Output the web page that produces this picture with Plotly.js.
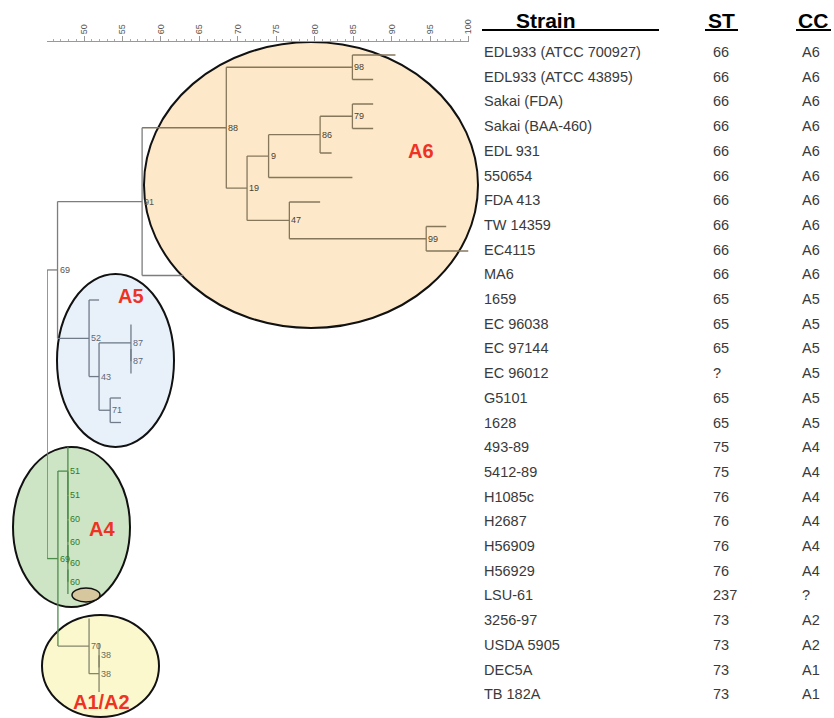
<!DOCTYPE html>
<html>
<head>
<meta charset="utf-8">
<script src="https://cdn.plot.ly/plotly-3.0.1.min.js"></script>
<style>html,body{margin:0;padding:0;background:#fff;}#chart{width:834px;height:718px;}</style>
</head>
<body>
<div id="chart"></div>
<script>
// ---------- DATA ----------
const strains = ["EDL933 (ATCC 700927)","EDL933 (ATCC 43895)","Sakai (FDA)","Sakai (BAA-460)","EDL 931","550654","FDA 413","TW 14359","EC4115","MA6","1659","EC 96038","EC 97144","EC 96012","G5101","1628","493-89","5412-89","H1085c","H2687","H56909","H56929","LSU-61","3256-97","USDA 5905","DEC5A","TB 182A"];
const stValues = ["66","66","66","66","66","66","66","66","66","66","65","65","65","?","65","65","75","75","76","76","76","76","237","73","73","73","73"];
const ccValues = ["A6","A6","A6","A6","A6","A6","A6","A6","A6","A6","A5","A5","A5","A5","A5","A5","A4","A4","A4","A4","A4","A4","?","A2","A2","A1","A1"];
// similarity (%) at which each leaf branch ends
const leafSim = [90.5,87.6,87.6,87.6,82.2,84.9,80.7,97.1,100,62.9,51.95,56.1,56.1,56.1,54.8,54.8,47.9,47.9,47.9,47.9,47.9,47.9,47.9,50.65,51.95,51.95,51.95];
// internal nodes of the dendrogram
const nodeIds = ["n98","n79","n86","n9","n99","n47","n19","n88","n91","n87b","n87a","n71","n43","n52","n69a","n60d","n60c","n60b","n60a","n51b","n51a","n38b","n38a","n70","n69b","root"];
const nodeSim = [84.9,84.9,80.7,74.0,94.5,76.7,71.2,68.5,57.55,56.1,56.1,53.4,51.95,50.65,46.55,47.9,47.9,47.9,47.9,47.9,47.9,51.95,51.95,50.65,46.6,45.2];
const nodeLabel = ["98","79","86","9","99","47","19","88","91","87","87","71","43","52","69","60","60","60","60","51","51","38","38","70","69",""];
const nodeChildren = [["L0","L1"],["L2","L3"],["n79","L4"],["n86","L5"],["L7","L8"],["L6","n99"],["n9","n47"],["n98","n19"],["n88","L9"],["L12","L13"],["L11","n87b"],["L14","L15"],["n87a","n71"],["L10","n43"],["n91","n52"],["L21","L22"],["L20","n60d"],["L19","n60c"],["L18","n60b"],["L17","n60a"],["L16","n51b"],["L24","L25"],["n38b","L26"],["L23","n38a"],["n51a","n70"],["n69a","n69b"]];
const nodeGroup = ["A6","A6","A6","A6","A6","A6","A6","A6","out","A5","A5","A5","A5","A5","out","A4","A4","A4","A4","A4","A4","A1","A1","A1","A4","out"];
const clusterNames = ["A6","A5","A4","A1/A2"];

// ---------- STYLE ----------
const W = 834, H = 718;
const lineColor = {A6:"#86775b", out:"#7d7d7d", A5:"#6f7b89", A4:"#4c8d4c", A1:"#85856a"};
const labelColor = {A6:"#4a4030", out:"#555555", A5:"#5d6876", A4:"#2f7a2f", A1:"#6c6c55"};
const px = x => x / W, py = y => 1 - y / H;

// ---------- TREE GEOMETRY (from data) ----------
const idx = {}; nodeIds.forEach((id,i)=>idx[id]=i);
const yCache = {};
function nodeY(id){
  if (id[0]==="L") return +id.slice(1);
  if (yCache[id]!==undefined) return yCache[id];
  const ch = nodeChildren[idx[id]].map(nodeY);
  return yCache[id] = (Math.min(...ch)+Math.max(...ch))/2;
}
function nodeX(id){ return id[0]==="L" ? leafSim[+id.slice(1)] : nodeSim[idx[id]]; }
const segs = {};
function add(g, x0,y0,x1,y1){ (segs[g]=segs[g]||{x:[],y:[]}); segs[g].x.push(x0,x1,null); segs[g].y.push(y0,y1,null); }
nodeIds.forEach((id,i)=>{
  const g = nodeGroup[i], x = nodeSim[i];
  const cys = nodeChildren[i].map(nodeY);
  add(g, x, Math.min(...cys), x, Math.max(...cys));
  nodeChildren[i].forEach(c=>{
    const cg = c[0]==="L" ? g : nodeGroup[idx[c]];
    add(cg, x, nodeY(c), nodeX(c), nodeY(c));
  });
});
const traces = Object.keys(segs).map(g=>({
  type:"scatter", mode:"lines", x:segs[g].x, y:segs[g].y,
  line:{color:lineColor[g], width:1.3}, hoverinfo:"skip", showlegend:false, xaxis:"x", yaxis:"y"
}));
traces.push({type:"scatter", mode:"markers", x:[], y:[], xaxis:"x", yaxis:"y2", showlegend:false});

// ---------- ANNOTATIONS ----------
const annotations = [];
nodeIds.forEach((id,i)=>{
  if (!nodeLabel[i]) return;
  annotations.push({x:nodeSim[i], y:nodeY(id), xref:"x", yref:"y", text:nodeLabel[i], showarrow:false,
    xanchor:"left", yanchor:"middle", xshift:0, font:{family:"Arial, Liberation Sans, sans-serif", size:9, color:labelColor[nodeGroup[i]]}});
});
const tfont = {family:"Arial, Liberation Sans, sans-serif", size:14.5, color:"#3a3a3a"};
strains.forEach((s,i)=>{
  annotations.push({x:px(482), y:i, xref:"paper", yref:"y2", text:s, showarrow:false, xanchor:"left", yanchor:"middle", font:tfont});
  annotations.push({x:px(711), y:i, xref:"paper", yref:"y2", text:stValues[i], showarrow:false, xanchor:"left", yanchor:"middle", font:tfont});
  annotations.push({x:px(800), y:i, xref:"paper", yref:"y2", text:ccValues[i], showarrow:false, xanchor:"left", yanchor:"middle", font:tfont});
});
const hfont = {family:"Arial, Liberation Sans, sans-serif", size:21, color:"#000"};
const headers = [["Strain",546],["ST",721],["CC",813]];
headers.forEach(h=>annotations.push({x:px(h[1]), y:py(20), xref:"paper", yref:"paper", text:"<b>"+h[0]+"</b>", showarrow:false, xanchor:"center", yanchor:"middle", font:hfont}));
const cfont = {family:"Arial, Liberation Sans, sans-serif", size:20, color:"#ee3325"};
const clusterPos = [[421,151],[131,296],[102,529],[101,702]];
clusterNames.forEach((c,i)=>annotations.push({x:px(clusterPos[i][0]), y:py(clusterPos[i][1]), xref:"paper", yref:"paper", text:"<b>"+c+"</b>", showarrow:false, xanchor:"center", yanchor:"middle", font:cfont}));

// ---------- SHAPES ----------
function ell(x0,y0,x1,y1,fill,lw){ return {type:"circle", xref:"paper", yref:"paper", x0:px(x0), x1:px(x1), y0:py(y1), y1:py(y0), fillcolor:fill, line:{color:"#111", width:lw}, layer:"below"}; }
const shapes = [
  ell(144,42,478,328,"#fde9c9",2),
  ell(57,274,174,447,"#e8f1fa",2),
  ell(13,447,130,607,"#cde5c5",2),
  ell(42,615,159,717,"#fbf8cd",2),
  ell(72,588,100,602,"#d6c79f",1.5),
  {type:"line", xref:"paper", yref:"paper", x0:px(482), x1:px(659), y0:py(30), y1:py(30), line:{color:"#000", width:2}},
  {type:"line", xref:"paper", yref:"paper", x0:px(705), x1:px(738), y0:py(30), y1:py(30), line:{color:"#000", width:2}},
  {type:"line", xref:"paper", yref:"paper", x0:px(796), x1:px(831), y0:py(30), y1:py(30), line:{color:"#000", width:2}}
];

const layout = {
  width:W, height:H, margin:{l:0,r:0,t:0,b:0}, paper_bgcolor:"#fff", plot_bgcolor:"rgba(0,0,0,0)",
  showlegend:false,
  xaxis:{domain:[px(47), px(468.5)], range:[45.18,100], side:"top", anchor:"y", showline:true, linecolor:"#999", linewidth:1,
    ticks:"outside", ticklen:5, tickcolor:"#999", tick0:50, dtick:5, tickangle:-90,
    tickfont:{family:"Arial, Liberation Sans, sans-serif", size:9, color:"#555"},
    minor:{dtick:1, ticklen:2.5, tickcolor:"#aaa", ticks:"outside"},
    showgrid:false, zeroline:false, fixedrange:true},
  yaxis:{domain:[0, 1-42/H], range:[(H-55)/24.5, (42-55)/24.5], visible:false, fixedrange:true},
  yaxis2:{overlaying:"y", range:[(H-52)/24.7, (42-52)/24.7], visible:false, fixedrange:true},
  shapes:shapes, annotations:annotations
};
Plotly.newPlot("chart", traces, layout, {staticPlot:true, displayModeBar:false});
</script>
</body>
</html>
